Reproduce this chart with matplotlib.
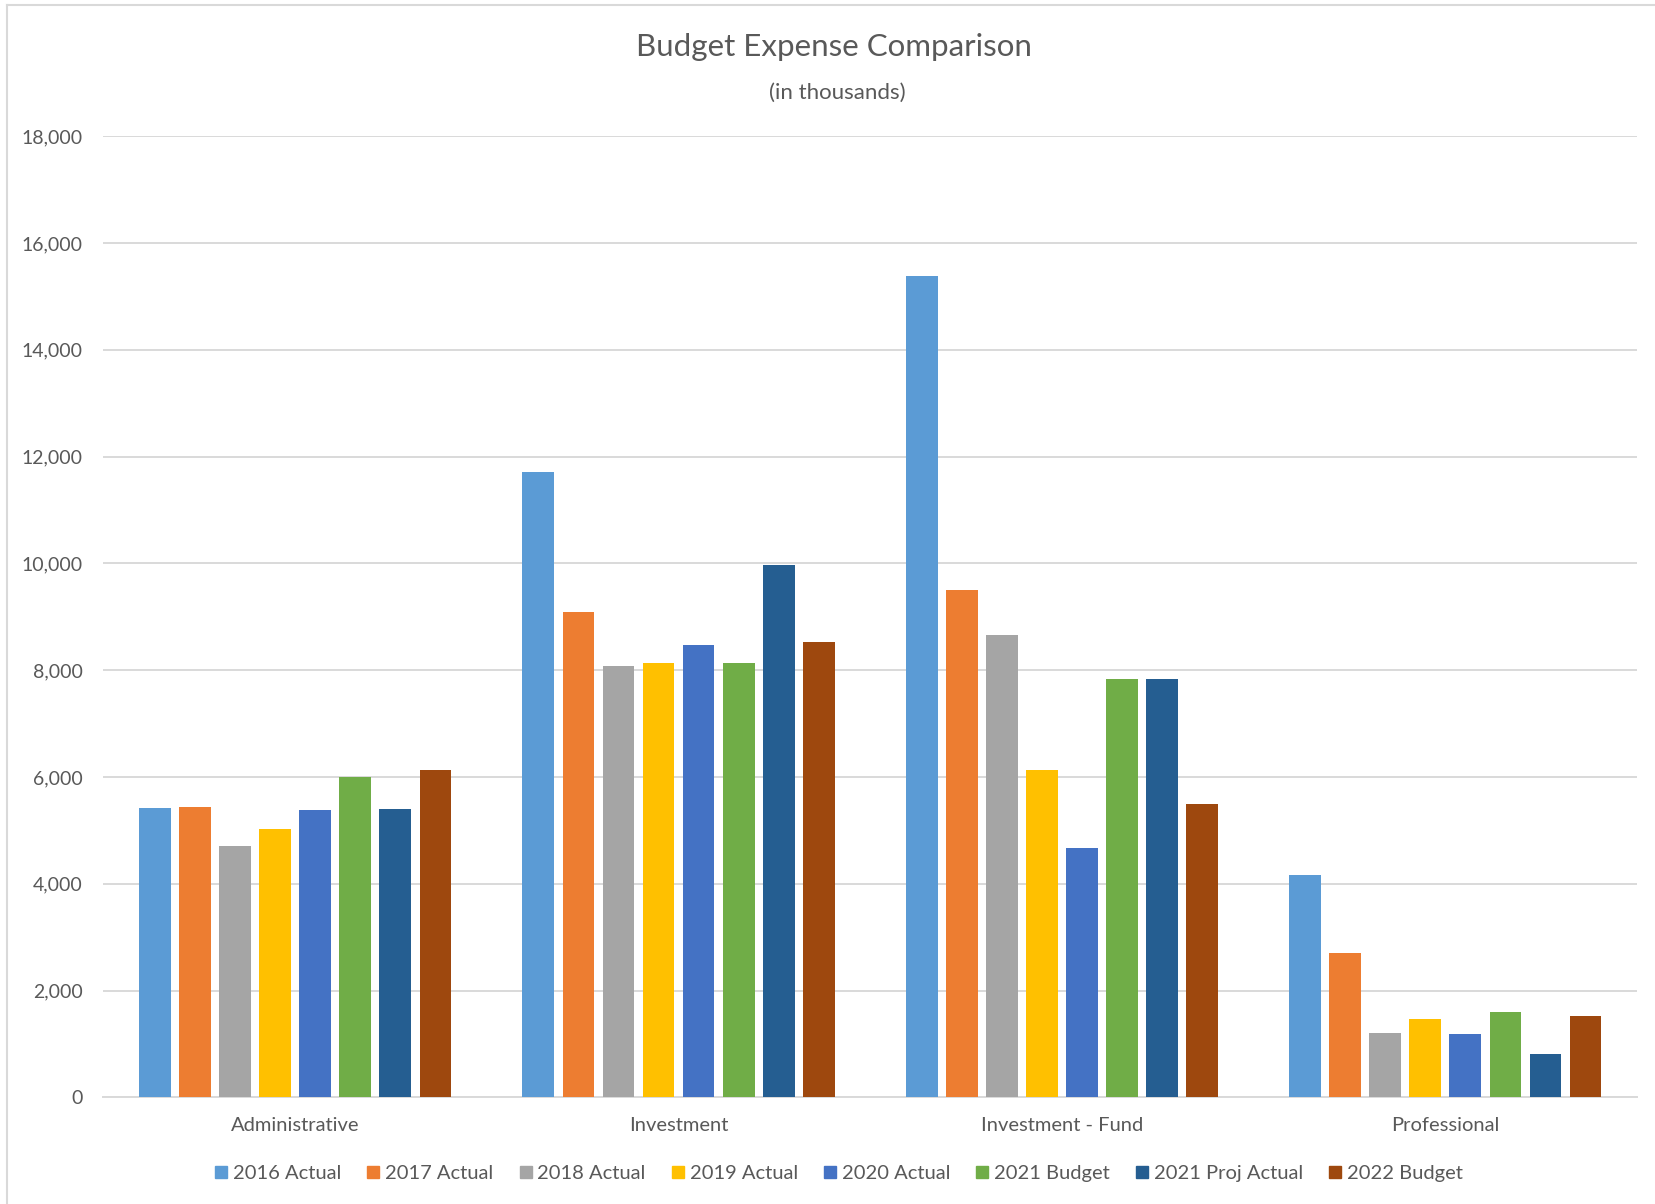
import matplotlib
matplotlib.use("Agg")
import matplotlib.pyplot as plt
from matplotlib.lines import Line2D
import numpy as np

categories = ["Administrative", "Investment", "Investment - Fund", "Professional"]
series_names = ["2016 Actual", "2017 Actual", "2018 Actual", "2019 Actual",
                "2020 Actual", "2021 Budget", "2021 Proj Actual", "2022 Budget"]
actual_2016 = [5425, 11720, 15375, 4165]
actual_2017 = [5440, 9090, 9505, 2695]
actual_2018 = [4700, 8075, 8660, 1200]
actual_2019 = [5025, 8135, 6125, 1460]
actual_2020 = [5380, 8465, 4660, 1190]
budget_2021 = [6000, 8140, 7835, 1600]
proj_2021 = [5400, 9965, 7835, 805]
budget_2022 = [6130, 8530, 5485, 1525]
series_values = [actual_2016, actual_2017, actual_2018, actual_2019,
                 actual_2020, budget_2021, proj_2021, budget_2022]
colors = ["#5B9BD5", "#ED7D31", "#A5A5A5", "#FFC000",
          "#4472C4", "#70AD47", "#255E91", "#9E480E"]
yticks = list(range(0, 18001, 2000))

FONT = ["Lato", "DejaVu Sans"]
plt.rcParams['font.family'] = FONT
TXT = "#595959"
GRID = "#D9D9D9"

W, H = 1656, 1204
fig = plt.figure(figsize=(W / 100, H / 100), dpi=100)
fig.patch.set_facecolor("white")

left, right = 103.5 / W, 1637 / W
bottom, top = (H - 1097.3) / H, (H - 136.2) / H
ax = fig.add_axes([left, bottom, right - left, top - bottom])

x = np.arange(len(categories))
step = 0.1045
width = 0.0828
for k, (vals, col) in enumerate(zip(series_values, colors)):
    ax.bar(x + (k - 3.5) * step, vals, width=width, color=col,
           label=series_names[k], zorder=3)

ax.set_xlim(-0.5, len(categories) - 0.5)
ax.set_ylim(0, 18000)
ax.set_yticks(yticks)
ax.set_yticklabels([f"{v:,}" for v in yticks])
ax.set_xticks(x)
ax.set_xticklabels(categories)
ax.yaxis.grid(True, color=GRID, linewidth=1.4, zorder=0)
ax.set_axisbelow(True)
for s in ["top", "right", "left"]:
    ax.spines[s].set_visible(False)
ax.spines["bottom"].set_color(GRID)
ax.spines["bottom"].set_linewidth(1.4)
ax.tick_params(axis="y", length=0, pad=15, labelsize=14, labelcolor=TXT)
ax.tick_params(axis="x", length=0, pad=14, labelsize=14.5, labelcolor=TXT)

fig.text(834 / W, 1 - 47 / H, "Budget Expense Comparison", ha="center", va="center",
         fontsize=22.5, color=TXT)
fig.text(837 / W, 1 - 93 / H, "(in thousands)", ha="center", va="center",
         fontsize=16, color=TXT)

handles = [Line2D([0], [0], marker="s", linestyle="none", markersize=8,
                  markerfacecolor=c, markeredgecolor=c) for c in colors]
leg = fig.legend(handles, series_names, loc="center", bbox_to_anchor=(839 / W, 1 - 1173 / H),
                 ncol=8, frameon=False, fontsize=14.5, handlelength=0.6,
                 handletextpad=0.28, columnspacing=1.3, labelcolor=TXT)

# chart border (top and left visible)
fig.add_artist(Line2D([7.4 / W, 7.4 / W], [0, 1 - 5.3 / H], transform=fig.transFigure,
                      color=GRID, linewidth=1.5))
fig.add_artist(Line2D([7.4 / W, 1], [1 - 5.3 / H, 1 - 5.3 / H], transform=fig.transFigure,
                      color=GRID, linewidth=1.5))

fig.savefig("out.png", dpi=100)
